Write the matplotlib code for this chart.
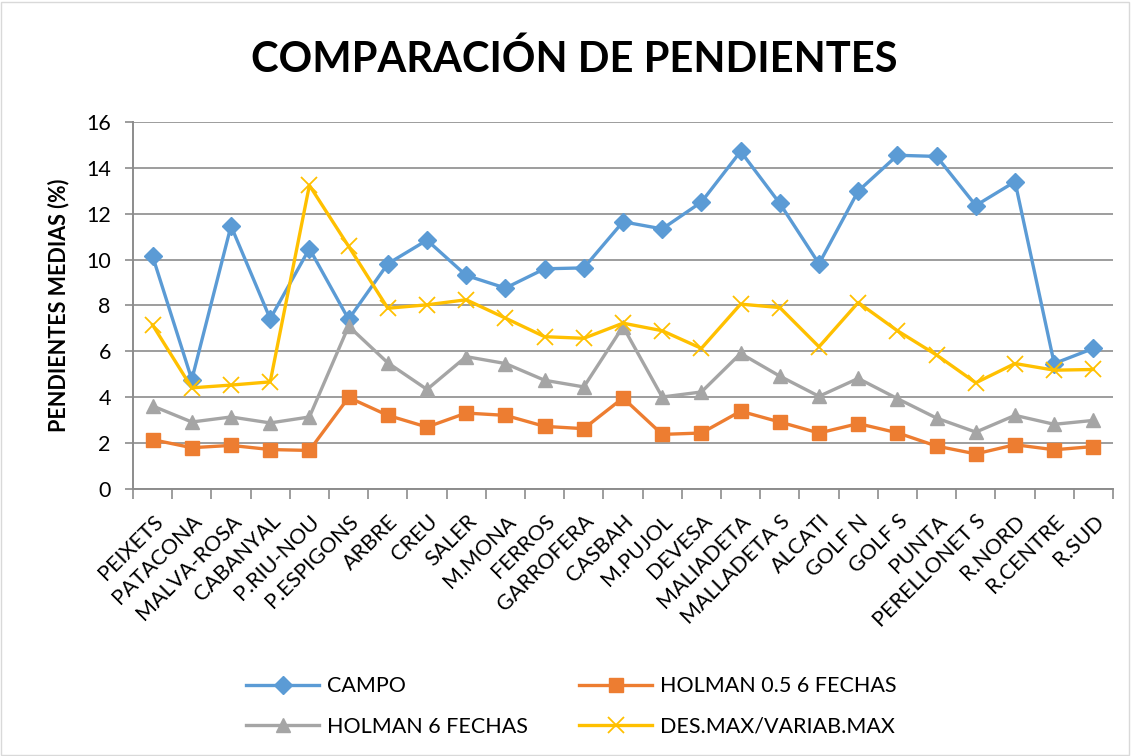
import matplotlib
matplotlib.use("Agg")
import matplotlib.pyplot as plt
from matplotlib.patches import Rectangle
from matplotlib.ticker import FixedLocator

playas = ["PEIXETS", "PATACONA", "MALVA-ROSA", "CABANYAL", "P.RIU-NOU", "P.ESPIGONS",
          "ARBRE", "CREU", "SALER", "M.MONA", "FERROS", "GARROFERA", "CASBAH",
          "M.PUJOL", "DEVESA", "MALIADETA", "MALLADETA S", "ALCATI", "GOLF N",
          "GOLF S", "PUNTA", "PERELLONET S", "R.NORD", "R.CENTRE", "R.SUD"]

campo = [10.15, 4.77, 11.47, 7.42, 10.48, 7.4, 9.82, 10.85, 9.31, 8.76, 9.6, 9.64, 11.65,
         11.34, 12.51, 14.72, 12.45, 9.82, 12.99, 14.55, 14.5, 12.36, 13.4, 5.47, 6.13]
holman05 = [2.15, 1.8, 1.9, 1.72, 1.68, 3.99, 3.21, 2.7, 3.31, 3.21, 2.73, 2.63, 3.97,
            2.38, 2.44, 3.39, 2.92, 2.44, 2.85, 2.45, 1.87, 1.53, 1.93, 1.71, 1.85]
holman6 = [3.62, 2.92, 3.14, 2.88, 3.14, 7.1, 5.5, 4.34, 5.77, 5.47, 4.74, 4.45, 7.08,
           4.01, 4.23, 5.91, 4.92, 4.04, 4.82, 3.94, 3.09, 2.48, 3.21, 2.82, 2.99]
desmax = [7.15, 4.41, 4.53, 4.67, 13.24, 10.58, 7.88, 8.03, 8.25, 7.45, 6.64, 6.57, 7.23,
          6.9, 6.13, 8.06, 7.91, 6.2, 8.13, 6.9, 5.84, 4.63, 5.47, 5.18, 5.21]

plt.rcParams["font.family"] = ["Lato", "DejaVu Sans"]

fig = plt.figure(figsize=(11.31, 7.56), dpi=100)
ax = fig.add_axes([0.1176, 0.3532, 0.9841 - 0.1176, 0.8386 - 0.3532])

x = list(range(len(playas)))
l1, = ax.plot(x, campo, color="#5B9BD5", lw=2.4, marker="D", ms=9, label="CAMPO")
l2, = ax.plot(x, holman05, color="#ED7D31", lw=2.4, marker="s", ms=10, label="HOLMAN 0.5 6 FECHAS")
l3, = ax.plot(x, holman6, color="#A5A5A5", lw=2.4, marker="^", ms=10.5, label="HOLMAN 6 FECHAS")
l4, = ax.plot(x, desmax, color="#FFC000", lw=2.4, marker="x", ms=11, mew=1.3, label="DES.MAX/VARIAB.MAX")

ax.set_xlim(-0.5, len(playas) - 0.5)
ax.set_ylim(0, 16)
ax.set_yticks(range(0, 17, 2))
ax.yaxis.grid(True, color="#8C8C8C", lw=1.2)
ax.set_axisbelow(True)

ax.set_xticks(x)
ax.set_xticklabels(playas, rotation=45, ha="right", rotation_mode="anchor", fontsize=15.5)
ax.tick_params(axis="x", which="major", length=0, pad=16)
ax.xaxis.set_minor_locator(FixedLocator([i - 0.5 for i in range(len(playas) + 1)]))
ax.tick_params(axis="x", which="minor", length=7, width=1.2, color="#8C8C8C")
ax.tick_params(axis="y", length=6, width=1.2, color="#8C8C8C", labelsize=15.5, pad=10)

for s in ["top", "right"]:
    ax.spines[s].set_visible(False)
for s in ["left", "bottom"]:
    ax.spines[s].set_color("#8C8C8C")
    ax.spines[s].set_linewidth(1.4)

ax.set_ylabel("PENDIENTES MEDIAS (%)", fontsize=15.5, fontweight="bold", labelpad=12)
fig.text(0.508, 0.921, "COMPARACIÓN DE PENDIENTES", fontsize=30, fontweight="bold",
         ha="center", va="center")

fig.legend(handles=[l1, l3, l2, l4], ncol=2, loc="center", bbox_to_anchor=(0.505, 0.0655),
           frameon=False, fontsize=15.5, handlelength=3.4, columnspacing=2.4, labelspacing=0.95,
           handletextpad=0.35)

fig.patches.append(Rectangle((0.001, 0.001), 0.997, 0.997, transform=fig.transFigure,
                             fill=False, edgecolor="#D9D9D9", lw=1))

fig.savefig("out.png", dpi=100)
